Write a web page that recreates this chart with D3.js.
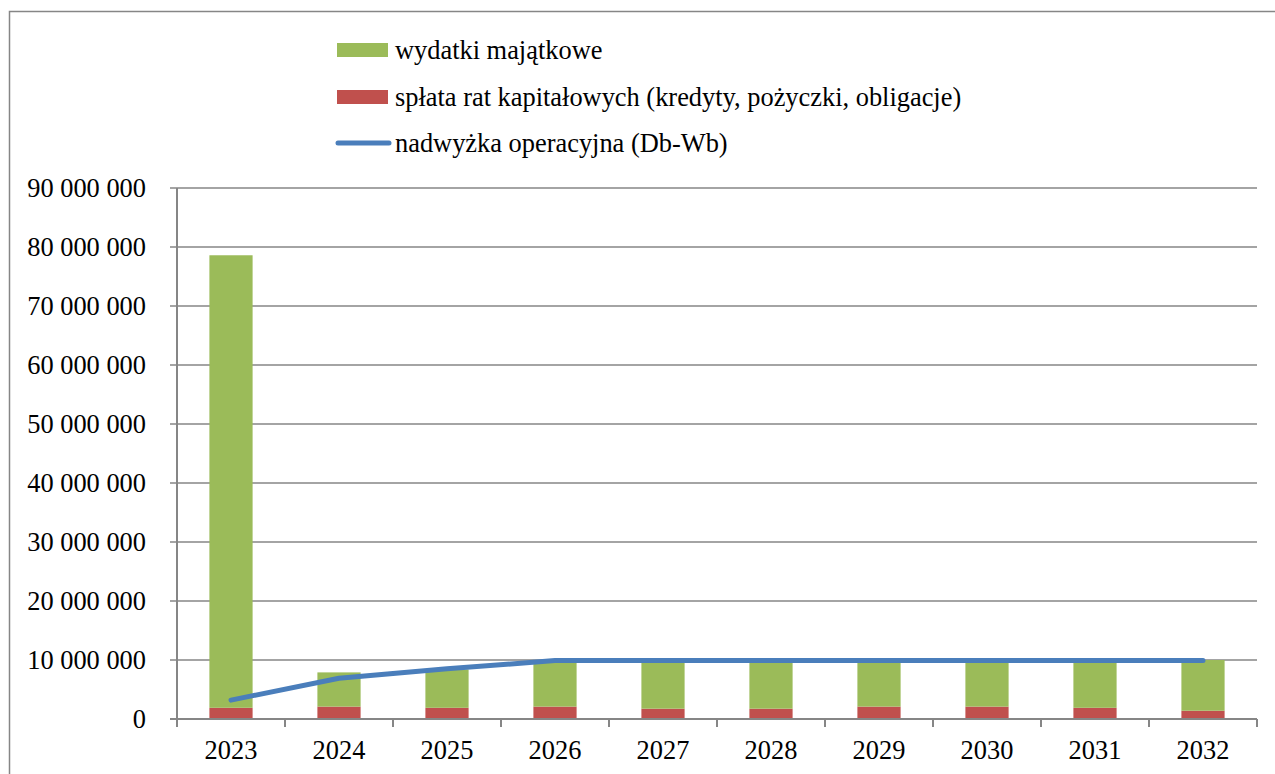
<!DOCTYPE html>
<html><head><meta charset="utf-8">
<script src="https://cdn.jsdelivr.net/npm/d3@7"></script>
<style>body{margin:0;background:#fff}svg{display:block}</style>
</head><body>
<script>
const years = ["2023","2024","2025","2026","2027","2028","2029","2030","2031","2032"];
const wydatkiMajatkowe = [78600000, 7900000, 8400000, 9800000, 9600000, 9600000, 9600000, 9600000, 9600000, 10000000];
const splataRat = [1900000, 2100000, 1900000, 2100000, 1750000, 1750000, 2100000, 2100000, 1900000, 1400000];
const nadwyzka = [3200000, 6900000, 8500000, 9900000, 9900000, 9900000, 9900000, 9900000, 9900000, 9900000];
const yTicks = [0,10000000,20000000,30000000,40000000,50000000,60000000,70000000,80000000,90000000];
const seriesNames = ["wydatki majątkowe","spłata rat kapitałowych (kredyty, pożyczki, obligacje)","nadwyżka operacyjna (Db-Wb)"];

const W=1275,H=774;
const svg=d3.select("body").append("svg").attr("width",W).attr("height",H);
const font='"Liberation Serif"';
const fs=26.4;
const axisCol="#868686";

svg.append("rect").attr("x",9.5).attr("y",11.5).attr("width",1290).attr("height",800)
  .attr("fill","none").attr("stroke",axisCol).attr("stroke-width",1.5);

const x=d3.scaleBand().domain(years).range([177,1257]).paddingInner(0.6).paddingOuter(0.3);
const xb=d3.scaleBand().domain(years).range([177,1257]);
const y=d3.scaleLinear().domain([0,90000000]).range([719,188]);
const fmt=v=>d3.format(",")(v).replace(/,/g," ");

// gridlines
svg.append("g").selectAll("line").data(yTicks).join("line")
  .attr("x1",170).attr("x2",1257).attr("y1",d=>y(d)).attr("y2",d=>y(d))
  .attr("stroke",axisCol).attr("stroke-width",1.5);
// y labels
svg.append("g").selectAll("text").data(yTicks).join("text")
  .attr("x",146).attr("y",d=>y(d)).attr("dy","0.33em").attr("text-anchor","end")
  .style("font-family",font).attr("font-size",fs).attr("fill","#000").text(fmt);

// bars
const stacked = years.map((yr,i)=>({yr,r:splataRat[i],g:wydatkiMajatkowe[i]}));
const g=svg.append("g");
g.selectAll(".red").data(stacked).join("rect")
  .attr("x",d=>x(d.yr)).attr("width",x.bandwidth())
  .attr("y",d=>y(d.r)).attr("height",d=>y(0)-y(d.r)).attr("fill","#c0504d");
g.selectAll(".green").data(stacked).join("rect")
  .attr("x",d=>x(d.yr)).attr("width",x.bandwidth())
  .attr("y",d=>y(d.g)).attr("height",d=>y(d.r)-y(d.g)).attr("fill","#9bbb59");

// axes
svg.append("line").attr("x1",177).attr("x2",177).attr("y1",188).attr("y2",719).attr("stroke",axisCol).attr("stroke-width",2);
svg.append("line").attr("x1",170).attr("x2",1257).attr("y1",719).attr("y2",719).attr("stroke",axisCol).attr("stroke-width",2);
const tickXs = years.map(d=>xb(d)).concat([1257]);
svg.append("g").selectAll("line").data(tickXs).join("line")
  .attr("x1",d=>d).attr("x2",d=>d).attr("y1",719).attr("y2",727).attr("stroke",axisCol).attr("stroke-width",2);
svg.append("g").selectAll("text").data(years).join("text")
  .attr("x",d=>xb(d)+xb.bandwidth()/2).attr("y",759).attr("text-anchor","middle")
  .style("font-family",font).attr("font-size",fs).attr("fill","#000").text(d=>d);

// line
const line=d3.line().x((d,i)=>x(years[i])+x.bandwidth()/2).y(d=>y(d));
svg.append("path").datum(nadwyzka).attr("d",line).attr("fill","none")
  .attr("stroke","#4a7ebb").attr("stroke-width",5).attr("stroke-linecap","round").attr("stroke-linejoin","round");

// legend
const lg=svg.append("g");
const rows=[50,97,143];
lg.append("rect").attr("x",337).attr("y",43).attr("width",51).attr("height",14).attr("fill","#9bbb59");
lg.append("rect").attr("x",337).attr("y",90).attr("width",51).attr("height",14).attr("fill","#c0504d");
lg.append("line").attr("x1",338).attr("x2",389).attr("y1",143).attr("y2",143).attr("stroke","#4a7ebb").attr("stroke-width",5).attr("stroke-linecap","round");
lg.selectAll("text").data(seriesNames).join("text")
  .attr("x",395).attr("y",(d,i)=>rows[i]).attr("dy","0.33em")
  .style("font-family",font).attr("font-size",fs).attr("fill","#000").text(d=>d);
</script>
</body></html>
